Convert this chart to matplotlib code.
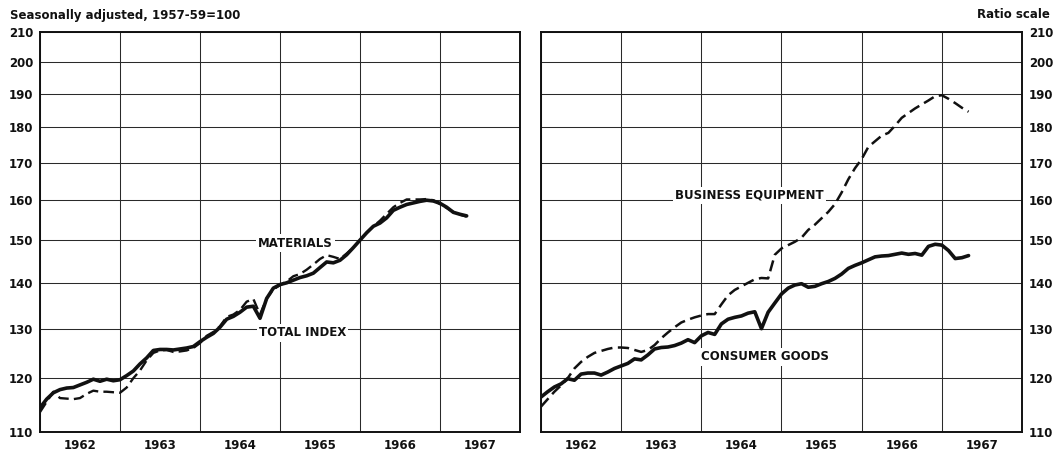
import matplotlib
matplotlib.use('Agg')
import matplotlib.pyplot as plt
from matplotlib.ticker import FixedLocator, NullLocator, FixedFormatter
import numpy as np

# monthly index values, Jan 1962 .. May 1967 (1957-59=100)
total_index = [114.4, 116.0, 117.2, 117.8, 118.1, 118.2, 118.7, 119.2, 119.8, 119.4,
               119.8, 119.5, 119.7, 120.5, 121.4, 122.8, 124.0, 125.5, 125.7, 125.7,
               125.6, 125.8, 126.0, 126.3, 127.3, 128.2, 129.0, 130.3, 132.0, 132.6,
               133.5, 134.6, 134.8, 132.2, 136.5, 138.8, 139.6, 140.0, 140.6, 141.2,
               141.6, 142.2, 143.5, 144.8, 144.6, 145.2, 146.5, 148.2, 150.0, 151.8,
               153.4, 154.2, 155.5, 157.4, 158.2, 158.9, 159.3, 159.7, 160.0, 159.8,
               159.2, 158.2, 156.9, 156.4, 156.0]
materials = [113.6, 115.5, 117.4, 116.2, 116.1, 116.0, 116.2, 117.0, 117.6, 117.4,
             117.4, 117.3, 117.2, 118.2, 120.0, 121.5, 123.5, 125.0, 125.5, 125.6,
             125.2, 125.3, 125.5, 126.0, 127.0, 128.5, 129.3, 130.5, 132.5, 133.0,
             134.0, 135.8, 136.4, 133.0, 136.5, 138.5, 139.5, 140.3, 141.5, 142.0,
             143.0, 144.2, 145.5, 146.4, 146.0, 145.5, 146.8, 148.2, 150.0, 151.8,
             153.4, 154.8, 156.5, 158.2, 159.3, 160.2, 160.2, 160.2, 160.3, 160.0,
             159.0, 158.0, 157.0, 156.3, 155.8]
consumer_goods = [116.4, 117.4, 118.3, 118.9, 119.9, 119.6, 120.8, 121.0, 121.0, 120.6,
                  121.2, 121.9, 122.4, 122.9, 123.8, 123.6, 124.6, 125.8, 126.1, 126.2,
                  126.5, 127.0, 127.7, 127.1, 128.5, 129.2, 128.8, 131.0, 132.0, 132.4,
                  132.7, 133.3, 133.6, 130.0, 133.5, 135.5, 137.5, 138.8, 139.5, 139.8,
                  139.0, 139.2, 139.8, 140.3, 141.0, 142.0, 143.3, 144.0, 144.6, 145.3,
                  146.0, 146.2, 146.3, 146.6, 146.9, 146.6, 146.8, 146.4, 148.5, 149.0,
                  148.8, 147.5, 145.6, 145.8, 146.3]
business_equipment = [114.6, 116.0, 117.4, 118.6, 120.0, 121.9, 123.2, 124.2, 125.0, 125.4,
                      125.8, 126.1, 126.1, 126.0, 125.6, 125.2, 125.6, 126.6, 128.0, 129.2,
                      130.3, 131.3, 131.9, 132.4, 132.8, 133.1, 133.1, 135.2, 137.2, 138.4,
                      139.2, 140.0, 140.8, 141.1, 141.0, 146.5, 148.0, 148.8, 149.6, 150.6,
                      152.5, 153.8, 155.4, 157.0, 159.0, 162.0, 165.5, 168.5, 171.0, 174.4,
                      176.0, 177.6, 178.4, 180.5, 182.8, 184.2, 185.6, 186.8, 188.0, 189.3,
                      189.6, 188.5, 187.2, 185.8, 184.6]

months = 1962 + np.arange(len(total_index)) / 12.0
year_labels = ['1962', '1963', '1964', '1965', '1966', '1967']
y_ticks = [110, 120, 130, 140, 150, 160, 170, 180, 190, 200, 210]

ink = '#111111'
font = dict(family='DejaVu Sans', weight='heavy', color=ink)

fig = plt.figure(figsize=(10.53, 4.57), dpi=100)
ax1 = fig.add_axes([40 / 1053, 1 - 432 / 457, 480 / 1053, 400 / 457])
ax2 = fig.add_axes([541 / 1053, 1 - 432 / 457, 481 / 1053, 400 / 457])


def setup(ax, side):
    ax.set_yscale('log')
    ax.set_ylim(110, 210)
    ax.set_xlim(1962, 1968)
    ax.yaxis.set_major_locator(FixedLocator(y_ticks))
    ax.yaxis.set_minor_locator(NullLocator())
    ax.yaxis.set_major_formatter(FixedFormatter([str(v) for v in y_ticks]))
    ax.xaxis.set_major_locator(FixedLocator(range(1962, 1969)))
    ax.xaxis.set_major_formatter(FixedFormatter([''] * 7))
    ax.xaxis.set_minor_locator(FixedLocator([y + 0.5 for y in range(1962, 1968)]))
    ax.xaxis.set_minor_formatter(FixedFormatter(year_labels))
    ax.grid(True, which='major', color='#2a2a2a', linewidth=0.75)
    ax.set_axisbelow(True)
    ax.tick_params(which='both', length=0, labelsize=8.5, pad=5)
    if side == 'right':
        ax.yaxis.tick_right()
    for lab in ax.get_yticklabels() + ax.get_xticklabels(which='minor'):
        lab.set_fontweight('heavy')
        lab.set_color(ink)
    for sp in ax.spines.values():
        sp.set_linewidth(1.4)
        sp.set_color(ink)


setup(ax1, 'left')
setup(ax2, 'right')

dash = (0, (4.5, 2.2))
ax1.plot(months, materials, color=ink, lw=1.7, linestyle=dash)
ax1.plot(months, total_index, color=ink, lw=2.6, solid_capstyle='round')
ax2.plot(months, business_equipment, color=ink, lw=1.8, linestyle=dash)
ax2.plot(months, consumer_goods, color=ink, lw=2.6, solid_capstyle='round')

box = dict(facecolor='white', edgecolor='none', pad=1.5)
ax1.text(1965.19, 149.3, 'MATERIALS', ha='center', va='center', fontsize=8.5, bbox=box, **font)
ax1.text(1965.28, 129.1, 'TOTAL INDEX', ha='center', va='center', fontsize=8.5, bbox=box, **font)
ax2.text(1964.6, 161.3, 'BUSINESS EQUIPMENT', ha='center', va='center', fontsize=8.5, bbox=box, **font)
ax2.text(1964.79, 124.2, 'CONSUMER GOODS', ha='center', va='center', fontsize=8.5, bbox=box, **font)

fig.text(10 / 1053, 1 - 15 / 457, 'Seasonally adjusted, 1957-59=100', ha='left', va='center',
         fontsize=8.5, **font)
fig.text(1050 / 1053, 1 - 15 / 457, 'Ratio scale', ha='right', va='center', fontsize=8.5, **font)

plt.savefig('out.png', dpi=100)
